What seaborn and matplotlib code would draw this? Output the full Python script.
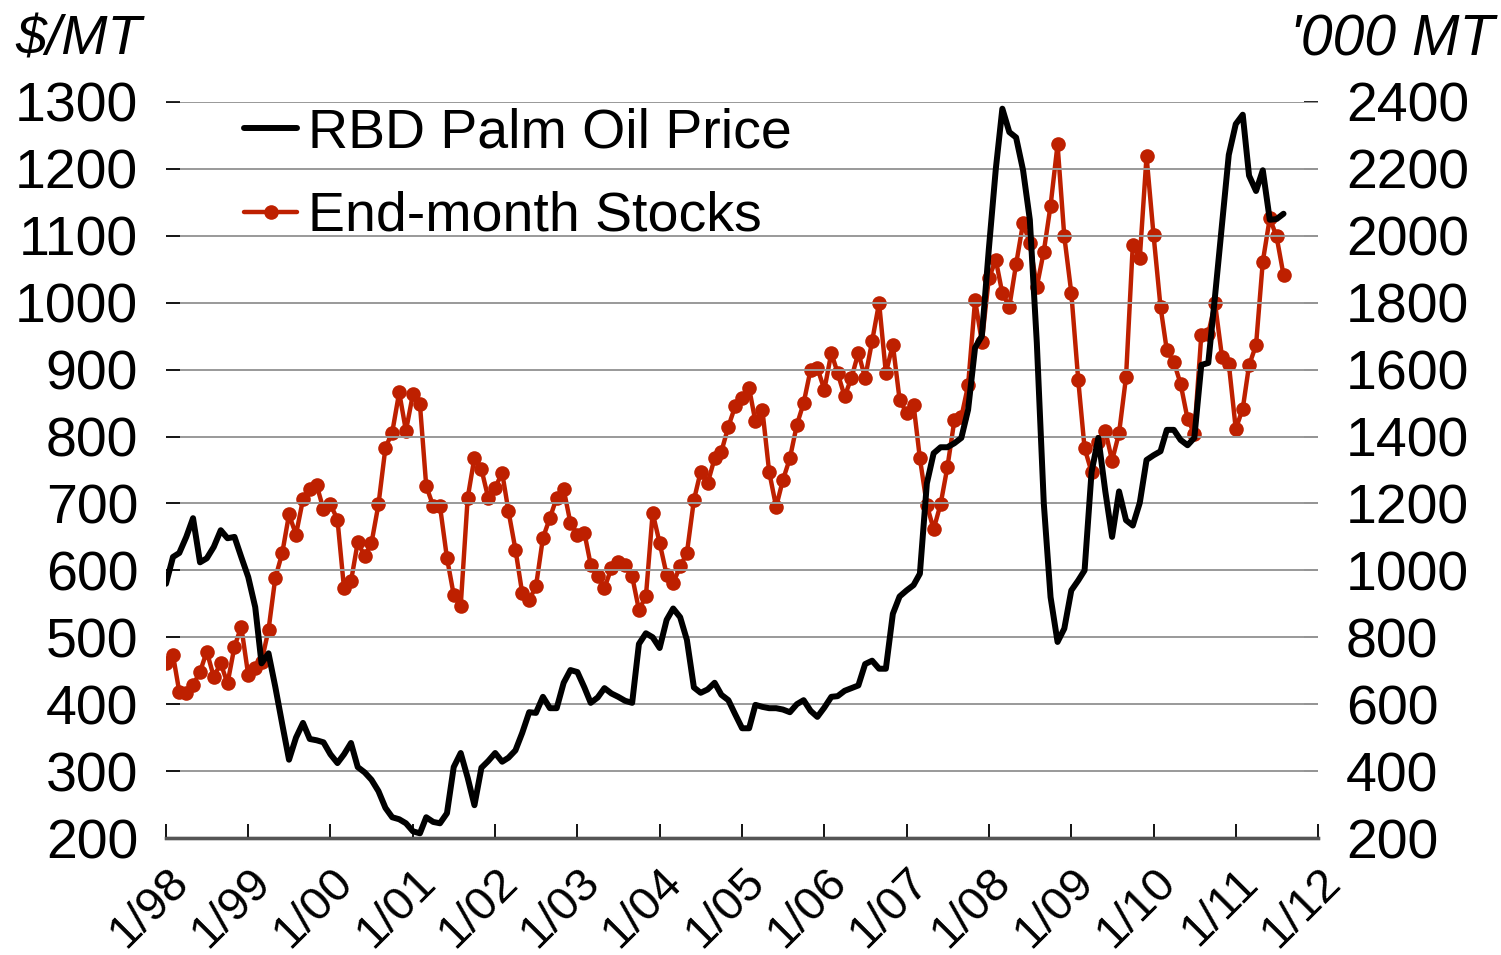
import pandas as pd
import numpy as np
import matplotlib
matplotlib.use("Agg")
import matplotlib.pyplot as plt
import matplotlib.transforms as mtransforms
import seaborn as sns
from matplotlib.lines import Line2D

# monthly series, Jan 1998 onwards
price = [580, 620, 626, 650, 678, 612, 618, 635, 660, 648, 650, 620,
         590, 545, 461, 476, 426, 370, 317, 350, 372, 348, 346, 343,
         325, 312, 325, 342, 306, 298, 287, 270, 245, 231, 228, 222,
         210, 207, 231, 224, 222, 237, 306, 327, 290, 249, 305, 315,
         327, 314, 320, 331, 357, 388, 387, 411, 394, 394, 432, 451,
         448, 425, 402, 410, 424, 416, 411, 405, 402, 490, 506, 500,
         484, 526, 543, 530, 496, 425, 417, 422, 432, 414, 406, 385,
         364, 364, 399, 396, 394, 394, 392, 388, 400, 406, 390, 381,
         395, 411, 412, 420, 424, 428, 460, 465, 453, 453, 535, 561,
         570, 578, 595, 730, 775, 784, 784, 790, 798, 840, 933, 950,
         1080, 1200, 1290, 1255, 1247, 1198, 1124, 940, 700, 560, 493, 513,
         570, 585, 600, 747, 798, 718, 650, 718, 675, 667, 701, 765,
         772, 778, 810, 810, 795, 787, 798, 907, 910, 1010, 1118, 1221,
         1267, 1281, 1190, 1167, 1198, 1124, 1125, 1133]

stocks = [722, 747, 637, 632, 657, 697, 757, 682, 722, 662, 772, 832,
          687, 707, 727, 822, 977, 1052, 1167, 1107, 1212, 1242, 1254, 1182,
          1197, 1152, 947, 967, 1084, 1042, 1082, 1197, 1367, 1412, 1532, 1417,
          1527, 1497, 1252, 1192, 1192, 1037, 927, 894, 1217, 1337, 1302, 1217,
          1247, 1292, 1177, 1062, 932, 912, 952, 1097, 1157, 1217, 1242, 1142,
          1107, 1112, 1017, 982, 947, 1007, 1024, 1017, 982, 882, 922, 1172,
          1082, 987, 962, 1012, 1052, 1210, 1295, 1260, 1335, 1355, 1430, 1490,
          1515, 1545, 1445, 1480, 1295, 1190, 1270, 1335, 1435, 1500, 1600, 1605,
          1540, 1650, 1590, 1520, 1575, 1650, 1575, 1685, 1800, 1590, 1675, 1510,
          1470, 1495, 1335, 1195, 1123, 1198, 1308, 1448, 1458, 1553, 1808, 1683,
          1873, 1928, 1828, 1788, 1915, 2038, 1978, 1848, 1953, 2090, 2273, 1998,
          1830, 1568, 1365, 1294, 1385, 1418, 1328, 1410, 1578, 1973, 1933, 2238,
          2003, 1788, 1658, 1623, 1558, 1453, 1408, 1703, 1708, 1798, 1638, 1618,
          1423, 1483, 1613, 1673, 1923, 2053, 1998, 1883]

months = pd.date_range("1998-01-01", periods=len(price), freq="MS")
year_ticks = pd.date_range("1998-01-01", "2012-01-01", freq="YS")
year_labels = ["1/%02d" % (d.year % 100) for d in year_ticks]
left_ticks = list(range(200, 1301, 100))
right_ticks = list(range(200, 2401, 200))

df = pd.DataFrame({"month": months, "price": price, "stocks": stocks})

sns.set_style("white")
plt.rcParams["font.family"] = ["Liberation Sans", "DejaVu Sans"]
plt.rcParams["text.color"] = "black"
plt.rcParams["xtick.color"] = "black"
plt.rcParams["ytick.color"] = "black"

RED = "#BE2000"
FS = 40

fig = plt.figure(figsize=(15.01, 9.55), dpi=100)
ax = fig.add_axes([166 / 1501, 1 - 838 / 955, 1152 / 1501, 736 / 955])
ax2 = ax.twinx()

sns.lineplot(data=df, x="month", y="stocks", ax=ax2, color=RED, lw=3.2,
             marker="o", markersize=10.5, markeredgewidth=0)
sns.lineplot(data=df, x="month", y="price", ax=ax, color="black", lw=4.3)

# price line on top of the stocks line
ax.set_zorder(ax2.get_zorder() + 1)
ax.patch.set_visible(False)

ax.set_xlim(year_ticks[0], year_ticks[-1])
ax.set_ylim(200, 1300)
ax2.set_ylim(200, 2400)
ax.set_xticks(year_ticks)
ax.set_xticklabels(year_labels, rotation=45, ha="right", va="top",
                   rotation_mode="anchor", fontsize=34)
shift = mtransforms.ScaledTranslation(12 / 100, 0, fig.dpi_scale_trans)
for lbl in ax.get_xticklabels():
    lbl.set_transform(lbl.get_transform() + shift)
ax.set_yticks(left_ticks)
ax.set_yticklabels([str(v) for v in left_ticks], fontsize=FS)
ax2.set_yticks(right_ticks)
ax2.set_yticklabels([str(v) for v in right_ticks], fontsize=FS)
ax.set_xlabel("")
ax.set_ylabel("")
ax2.set_ylabel("")

ax.grid(axis="y", color="#999999", lw=1.4)
ax.grid(axis="x", visible=False)
ax2.grid(False)

ax.tick_params(axis="y", left=True, direction="in", length=10, width=1.2, pad=20)
ax.tick_params(axis="x", bottom=True, direction="in", length=10, width=1.3, pad=16)
ax2.tick_params(axis="y", right=True, direction="in", length=10, width=1.2, pad=20)

for a in (ax, ax2):
    for side in ("left", "right", "top"):
        a.spines[side].set_visible(False)
    a.spines["bottom"].set_color("#555555")
    a.spines["bottom"].set_linewidth(2.4)

handles = [Line2D([], [], color="black", lw=4.3),
           Line2D([], [], color=RED, lw=3.2, marker="o", markersize=10.5,
                  markeredgewidth=0)]
ax.legend(handles, ["RBD Palm Oil Price", "End-month Stocks"],
          loc="upper left", bbox_to_anchor=(0.068, 0.992), frameon=False,
          fontsize=FS, handlelength=0.95, handletextpad=0.2,
          labelspacing=0.56, borderpad=0, borderaxespad=0)

fig.text(15 / 1501, 1 - 14 / 955, "$/MT", fontsize=FS, style="italic",
         ha="left", va="top")
fig.text(1494 / 1501, 1 - 14 / 955, "'000 MT", fontsize=41, style="italic",
         ha="right", va="top")

fig.savefig("out.png", dpi=100)
